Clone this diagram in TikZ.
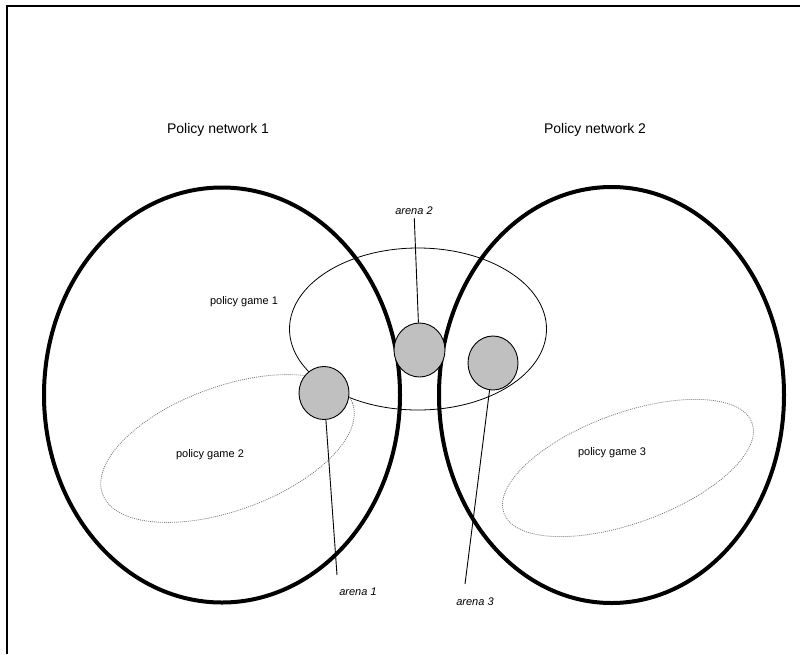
\documentclass[tikz,border=0pt]{standalone}
\usepackage{fontspec}
\setmainfont{Liberation Sans}
\usetikzlibrary{shapes.geometric,positioning}
\definecolor{arenagray}{RGB}{192,192,192}

\begin{document}
\begin{tikzpicture}[
    x=1pt, y=-1pt,
    network/.style={draw, ellipse, line width=4pt, inner sep=0pt},
    game/.style={draw, ellipse, line width=0.8pt, inner sep=0pt},
    subgame/.style={draw=gray, ellipse, dash pattern=on 1pt off 1pt, line width=0.8pt, inner sep=0pt},
    arena/.style={draw, ellipse, fill=arenagray, line width=0.9pt, inner sep=0pt},
    netlabel/.style={font=\fontsize{14}{16}\selectfont},
    gamelabel/.style={font=\fontsize{11}{13}\selectfont},
    arenalabel/.style={font=\fontsize{11}{13}\selectfont\itshape}
  ]
  \useasboundingbox (0,0) rectangle (800,654);
  \draw[line width=2pt] (7,654) -- (7,6) -- (800,6);

  \node[network, minimum width=356pt, minimum height=415pt] (net1) at (222,395) {};
  \node[network, minimum width=345pt, minimum height=416pt] (net2) at (611.5,395) {};
  \node[netlabel] (net1lbl) at (218,130) {Policy network 1};
  \node[netlabel] (net2lbl) at (595,130) {Policy network 2};

  \node[game, minimum width=257pt, minimum height=162pt] (game1) at (418,329) {};
  \node[subgame, rotate=20, minimum width=266pt, minimum height=124pt] (game2) at (227.5,448.5) {};
  \node[subgame, rotate=20, minimum width=264pt, minimum height=110pt] (game3) at (628,468) {};
  \node[gamelabel] (game1lbl) at (244,302) {policy game 1};
  \node[gamelabel] (game2lbl) at (210,455) {policy game 2};
  \node[gamelabel] (game3lbl) at (612,453) {policy game 3};

  \node[arena, minimum width=50pt, minimum height=53pt] (a1) at (324,393) {};
  \node[arena, minimum width=51pt, minimum height=54pt] (a2) at (419.5,350) {};
  \node[arena, minimum width=50pt, minimum height=54pt] (a3) at (493,363) {};
  \node[arenalabel] (a1lbl) at (358,592) {arena 1};
  \node[arenalabel] (a2lbl) at (414,211) {arena 2};
  \node[arenalabel] (a3lbl) at (475,602) {arena 3};
  \coordinate (a1end) at (337,575);
  \coordinate (a3end) at (465,584);

  \draw[line width=0.9pt] (a2lbl) -- (a2);
  \draw[line width=0.9pt] (a1) -- (a1end);
  \draw[line width=0.9pt] (a3) -- (a3end);
\end{tikzpicture}
\end{document}
